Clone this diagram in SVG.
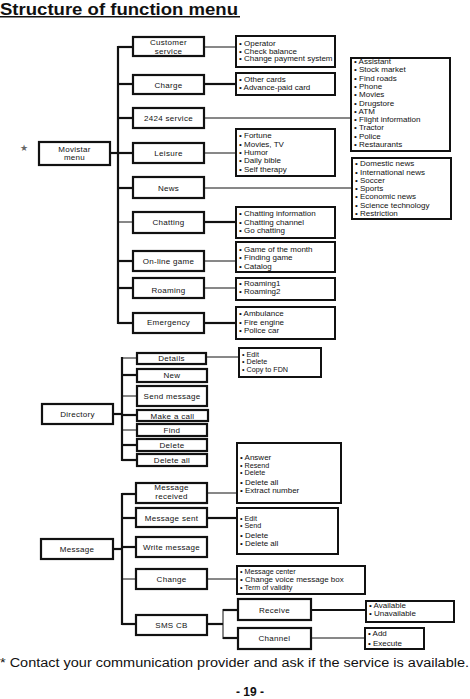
<svg xmlns="http://www.w3.org/2000/svg" width="470" height="699" viewBox="0 0 470 699">
<style>
text{font-family:"Liberation Sans",Arial,sans-serif;fill:#111}
.lbl{font-size:8px;text-anchor:middle;letter-spacing:0.3px}
.it{font-size:8px}
.sm{font-size:7.2px}
.b{fill:#fff;stroke:#111;stroke-width:2.2}
.bl{fill:#fff;stroke:#111;stroke-width:2}
.t{stroke:#111;stroke-width:2.2;fill:none}
.n{stroke:#111;stroke-width:1;fill:none}
</style>
<rect width="470" height="699" fill="#fff"/>
<text x="0" y="14.5" font-size="17" font-weight="bold" textLength="238" lengthAdjust="spacingAndGlyphs">Structure of function menu</text>
<line x1="0" y1="16.8" x2="240" y2="16.8" stroke="#111" stroke-width="1.6"/>

<g id="connectors">
<line class="t" x1="110" y1="153" x2="118" y2="153"/>
<line class="t" x1="118" y1="46" x2="118" y2="324"/>
<line class="t" x1="118" y1="47" x2="133" y2="47"/>
<line class="t" x1="118" y1="84" x2="133" y2="84"/>
<line class="t" x1="118" y1="118" x2="133" y2="118"/>
<line class="t" x1="118" y1="153" x2="133" y2="153"/>
<line class="t" x1="118" y1="188" x2="133" y2="188"/>
<line class="n" x1="118" y1="222" x2="133" y2="222"/>
<line class="t" x1="118" y1="261" x2="133" y2="261"/>
<line class="t" x1="118" y1="288" x2="133" y2="288"/>
<line class="t" x1="118" y1="323" x2="133" y2="323"/>
<line class="n" x1="204" y1="47" x2="236" y2="47"/>
<line class="t" x1="204" y1="84" x2="236" y2="84"/>
<line class="n" x1="204" y1="118" x2="351" y2="118"/>
<line class="n" x1="204" y1="153" x2="236" y2="153"/>
<line class="n" x1="204" y1="188" x2="352" y2="188"/>
<line class="t" x1="204" y1="222" x2="236" y2="222"/>
<line class="n" x1="204" y1="261" x2="236" y2="261"/>
<line class="n" x1="204" y1="288" x2="236" y2="288"/>
<line class="t" x1="204" y1="323" x2="236" y2="323"/>
<line class="t" x1="113" y1="414" x2="122" y2="414"/>
<line class="t" x1="122" y1="357" x2="122" y2="461"/>
<line class="n" x1="122" y1="358" x2="137" y2="358"/>
<line class="t" x1="122" y1="375" x2="137" y2="375"/>
<line class="n" x1="122" y1="396" x2="137" y2="396"/>
<line class="t" x1="122" y1="415" x2="137" y2="415"/>
<line class="n" x1="122" y1="430" x2="137" y2="430"/>
<line class="t" x1="122" y1="445" x2="137" y2="445"/>
<line class="t" x1="122" y1="460" x2="137" y2="460"/>
<line class="n" x1="206" y1="357" x2="239" y2="357"/>
<line class="t" x1="113" y1="549" x2="122" y2="549"/>
<line class="t" x1="122" y1="493" x2="122" y2="625"/>
<line class="t" x1="122" y1="494" x2="136" y2="494"/>
<line class="t" x1="122" y1="518" x2="136" y2="518"/>
<line class="t" x1="122" y1="547" x2="136" y2="547"/>
<line class="n" x1="122" y1="579" x2="136" y2="579"/>
<line class="t" x1="122" y1="624" x2="136" y2="624"/>
<line class="n" x1="207" y1="493" x2="237" y2="493"/>
<line class="t" x1="207" y1="518" x2="237" y2="518"/>
<line class="n" x1="207" y1="579" x2="237" y2="579"/>
<line class="t" x1="207" y1="624" x2="223" y2="624"/>
<line class="n" x1="223" y1="609" x2="223" y2="639"/>
<line class="t" x1="223" y1="610" x2="238" y2="610"/>
<line class="t" x1="223" y1="638" x2="238" y2="638"/>
<line class="t" x1="311" y1="610" x2="366" y2="610"/>
<line class="n" x1="311" y1="638" x2="365" y2="638"/>
</g>

<text x="24" y="151" font-size="9" text-anchor="middle" style="fill:#666">★</text>

<g id="movistar"><rect class="b" x="39" y="142" width="71" height="23"/><text class="lbl" x="74.5" y="152">Movistar</text><text class="lbl" x="74.5" y="160">menu</text></g>

<g id="customer"><rect class="b" x="133" y="37" width="71" height="19"/><text class="lbl" x="168.5" y="45">Customer</text><text class="lbl" x="168.5" y="53.5">service</text></g>
<g id="charge"><rect class="b" x="133" y="75" width="71" height="19"/><text class="lbl" x="168.5" y="88">Charge</text></g>
<g id="s2424"><rect class="b" x="133" y="108" width="71" height="20"/><text class="lbl" x="168.5" y="121">2424 service</text></g>
<g id="leisure"><rect class="b" x="133" y="143" width="71" height="20"/><text class="lbl" x="168.5" y="156">Leisure</text></g>
<g id="news"><rect class="b" x="133" y="177" width="71" height="21"/><text class="lbl" x="168.5" y="191">News</text></g>
<g id="chatting"><rect class="b" x="133" y="212" width="71" height="21"/><text class="lbl" x="168.5" y="225">Chatting</text></g>
<g id="online"><rect class="b" x="133" y="251" width="71" height="20"/><text class="lbl" x="168.5" y="264">On-line game</text></g>
<g id="roaming"><rect class="b" x="133" y="278" width="71" height="20"/><text class="lbl" x="168.5" y="293">Roaming</text></g>
<g id="emergency"><rect class="b" x="133" y="313" width="71" height="20"/><text class="lbl" x="168.5" y="325">Emergency</text></g>

<g id="op-list"><rect class="bl" x="236" y="36" width="99" height="31"/>
<text class="it" x="239" y="46">• Operator</text><text class="it" x="239" y="53.5">•  Check balance</text><text class="it" x="239" y="61">•  Change payment system</text></g>
<g id="charge-list"><rect class="bl" x="236" y="73" width="99" height="22"/>
<text class="it" x="239" y="81.5">•  Other cards</text><text class="it" x="239" y="89.8">•  Advance-paid card</text></g>
<g id="s2424-list"><rect class="bl" x="351" y="58" width="99" height="93"/>
<text class="it" x="354" y="64">• Assistant</text><text class="it" x="354" y="72.3">• Stock market</text><text class="it" x="354" y="80.6">• Find roads</text><text class="it" x="354" y="88.9">• Phone</text><text class="it" x="354" y="97.2">• Movies</text><text class="it" x="354" y="105.5">• Drugstore</text><text class="it" x="354" y="113.8">• ATM</text><text class="it" x="354" y="122.1">• Flight information</text><text class="it" x="354" y="130.4">• Tractor</text><text class="it" x="354" y="138.7">• Police</text><text class="it" x="354" y="147">• Restaurants</text></g>
<g id="leisure-list"><rect class="bl" x="236" y="129" width="99" height="47"/>
<text class="it" x="239" y="138">• Fortune</text><text class="it" x="239" y="146.5">• Movies, TV</text><text class="it" x="239" y="155">• Humor</text><text class="it" x="239" y="163">• Daily bible</text><text class="it" x="239" y="171.5">• Self  therapy</text></g>
<g id="news-list"><rect class="bl" x="352" y="158" width="99" height="61"/>
<text class="it" x="355" y="166">• Domestic news</text><text class="it" x="355" y="174.5">• International news</text><text class="it" x="355" y="182.8">• Soccer</text><text class="it" x="355" y="191">• Sports</text><text class="it" x="355" y="199.4">• Economic news</text><text class="it" x="355" y="207.7">• Science technology</text><text class="it" x="355" y="216">• Restriction</text></g>
<g id="chat-list"><rect class="bl" x="236" y="207" width="99" height="31"/>
<text class="it" x="239" y="216">•  Chatting information</text><text class="it" x="239" y="225">•  Chatting channel</text><text class="it" x="239" y="233">•  Go chatting</text></g>
<g id="game-list"><rect class="bl" x="236" y="242" width="99" height="30"/>
<text class="it" x="239" y="252">•  Game of the month</text><text class="it" x="239" y="260">•  Finding game</text><text class="it" x="239" y="268.5">•  Catalog</text></g>
<g id="roam-list"><rect class="bl" x="236" y="278" width="99" height="22"/>
<text class="it" x="239" y="286">•  Roaming1</text><text class="it" x="239" y="294">•  Roaming2</text></g>
<g id="emer-list"><rect class="bl" x="236" y="307" width="99" height="32"/>
<text class="it" x="239" y="316">•  Ambulance</text><text class="it" x="239" y="324.5">•  Fire engine</text><text class="it" x="239" y="333">•  Police car</text></g>

<g id="directory"><rect class="b" x="42" y="404" width="71" height="20"/><text class="lbl" x="77.5" y="417">Directory</text></g>
<g id="details"><rect class="b" x="137" y="353" width="69" height="11"/><text class="lbl" x="171.5" y="361">Details</text></g>
<g id="new"><rect class="b" x="137" y="369" width="70" height="13"/><text class="lbl" x="172" y="378">New</text></g>
<g id="sendmsg"><rect class="b" x="137" y="386" width="70" height="20"/><text class="lbl" x="172" y="399">Send message</text></g>
<g id="makecall"><rect class="b" x="137" y="410" width="71" height="11"/><text class="lbl" x="172.5" y="418.5">Make a call</text></g>
<g id="find"><rect class="b" x="137" y="424" width="70" height="12"/><text class="lbl" x="172" y="433">Find</text></g>
<g id="delete"><rect class="b" x="137" y="439" width="70" height="12"/><text class="lbl" x="172" y="448">Delete</text></g>
<g id="deleteall"><rect class="b" x="137" y="454" width="70" height="12"/><text class="lbl" x="172" y="463">Delete all</text></g>
<g id="details-list"><rect class="bl" x="239" y="348" width="82" height="29"/>
<text class="sm" x="242" y="356.5">•  Edit</text><text class="sm" x="242" y="364">•  Delete</text><text class="sm" x="242" y="372">•  Copy to FDN</text></g>

<g id="message"><rect class="b" x="41" y="539" width="72" height="20"/><text class="lbl" x="77" y="552">Message</text></g>
<g id="msgrecv"><rect class="b" x="136" y="483" width="71" height="20"/><text class="lbl" x="171.5" y="490">Message</text><text class="lbl" x="171.5" y="499">received</text></g>
<g id="msgsent"><rect class="b" x="136" y="508" width="71" height="19"/><text class="lbl" x="171.5" y="521">Message sent</text></g>
<g id="writemsg"><rect class="b" x="136" y="537" width="71" height="20"/><text class="lbl" x="171.5" y="550">Write message</text></g>
<g id="change"><rect class="b" x="136" y="569" width="71" height="20"/><text class="lbl" x="171.5" y="582">Change</text></g>
<g id="smscb"><rect class="b" x="136" y="615" width="71" height="20"/><text class="lbl" x="171.5" y="628">SMS CB</text></g>
<g id="receive"><rect class="b" x="238" y="599" width="73" height="21"/><text class="lbl" x="274.5" y="613">Receive</text></g>
<g id="channel"><rect class="b" x="238" y="628" width="73" height="21"/><text class="lbl" x="274.5" y="641">Channel</text></g>
<g id="recv-list"><rect class="bl" x="237" y="443" width="104" height="60"/>
<text class="it" x="240" y="460">•  Answer</text><text class="sm" x="240" y="467.6">•  Resend</text><text class="sm" x="240" y="475.4">•  Delete</text><text class="it" x="240" y="485">•  Delete all</text><text class="it" x="240" y="493">•  Extract number</text></g>
<g id="sent-list"><rect class="bl" x="237" y="508" width="101" height="46"/>
<text class="sm" x="240" y="520.5">•  Edit</text><text class="sm" x="240" y="528.4">•  Send</text><text class="it" x="240" y="538">•  Delete</text><text class="it" x="240" y="546">•  Delete all</text></g>
<g id="change-list"><rect class="bl" x="237" y="566" width="128" height="28"/>
<text class="sm" x="240" y="574">•  Message center</text><text class="it" x="240" y="582">•  Change voice message box</text><text class="sm" x="240" y="589.5">•  Term of validity</text></g>
<g id="avail-list"><rect class="bl" x="366" y="601" width="88" height="21"/>
<text class="it" x="369" y="608">•  Available</text><text class="it" x="369" y="616">•  Unavailable</text></g>
<g id="add-list"><rect class="bl" x="365" y="628" width="59" height="21"/>
<text class="it" x="368" y="636">•  Add</text><text class="it" x="368" y="646">•  Execute</text></g>

<text x="0" y="667" font-size="12.5" textLength="469" lengthAdjust="spacingAndGlyphs">* Contact your communication provider and ask if the service is available.</text>
<text x="250" y="696" font-size="12" font-weight="bold" text-anchor="middle">-  19 -</text>
</svg>
